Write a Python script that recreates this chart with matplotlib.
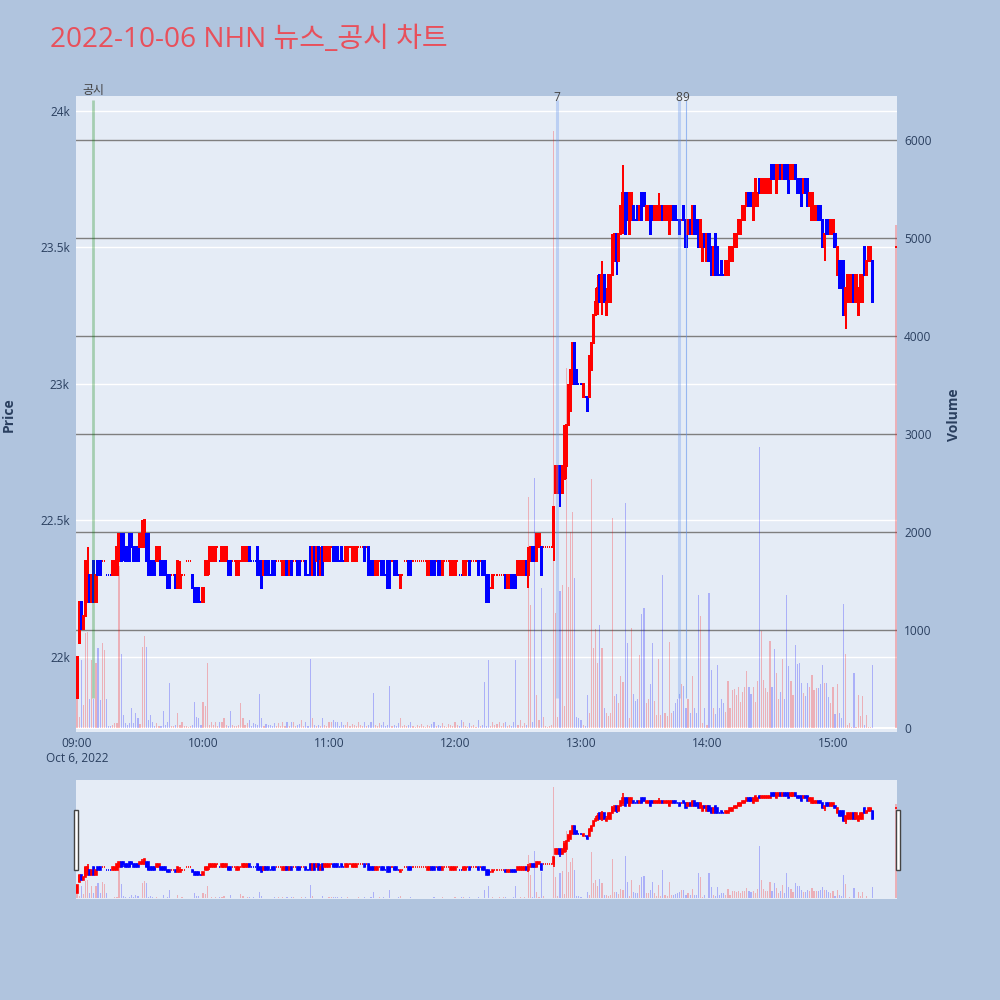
import numpy as np
import pandas as pd
import matplotlib
matplotlib.use('Agg')
import matplotlib.pyplot as plt
import matplotlib.transforms as mtransforms
from matplotlib.patches import Rectangle

plt.rcParams['font.family'] = ['Open Sans', 'Noto Sans CJK KR', 'DejaVu Sans']

# ---------------- data (1-minute candles, 2022-10-06) ----------------
times = list(pd.date_range('2022-10-06 09:00', '2022-10-06 15:19', freq='min')) + [pd.Timestamp('2022-10-06 15:30')]

opens = [
    21850,22050,22200,22100,22150,22200,22300,22200,22350,22200,
    22350,22350,22350,22350,22300,22300,22300,22300,22300,22300,
    22350,22450,22450,22400,22400,22450,22450,22400,22400,22400,
    22400,22400,22400,22450,22450,22350,22350,22350,22350,22350,
    22350,22350,22350,22300,22300,22300,22300,22300,22250,22250,
    22300,22300,22350,22350,22350,22300,22250,22250,22250,22200,
    22200,22300,22300,22350,22350,22350,22350,22400,22350,22350,
    22350,22350,22350,22350,22350,22350,22300,22300,22350,22350,
    22350,22350,22400,22350,22350,22350,22400,22350,22350,22300,
    22350,22350,22300,22350,22350,22350,22350,22350,22300,22300,
    22350,22300,22350,22350,22350,22350,22350,22350,22350,22350,
    22300,22400,22300,22400,22350,22400,22300,22400,22350,22350,
    22350,22400,22400,22400,22400,22350,22400,22350,22350,22350,
    22400,22350,22350,22350,22400,22400,22400,22400,22400,22400,
    22350,22350,22300,22300,22350,22350,22350,22300,22350,22350,
    22350,22350,22350,22300,22250,22300,22350,22350,22350,22350,
    22350,22350,22350,22350,22350,22350,22350,22300,22300,22350,
    22350,22350,22350,22350,22300,22350,22350,22350,22300,22300,
    22300,22350,22300,22300,22300,22300,22350,22350,22350,22350,
    22350,22350,22350,22350,22350,22300,22300,22250,22250,22300,
    22300,22300,22300,22300,22300,22250,22250,22300,22300,22300,
    22300,22300,22300,22300,22350,22300,22350,22400,22400,22350,
    22400,22400,22400,22400,22400,22400,22400,22400,22600,22600,
    22700,22600,22650,22700,22850,22900,23000,23150,23050,23000,
    23000,22950,22950,22950,22950,23050,23150,23250,23300,23400,
    23300,23400,23250,23300,23300,23400,23450,23550,23450,23550,
    23600,23700,23700,23550,23600,23650,23600,23650,23600,23700,
    23700,23600,23600,23650,23650,23600,23600,23600,23600,23650,
    23600,23600,23550,23600,23650,23650,23600,23600,23600,23650,
    23600,23550,23600,23550,23650,23600,23600,23500,23450,23550,
    23450,23550,23500,23400,23550,23500,23400,23450,23400,23400,
    23400,23450,23450,23500,23500,23550,23550,23600,23600,23650,
    23700,23700,23600,23650,23650,23750,23700,23700,23700,23700,
    23700,23800,23800,23700,23750,23800,23750,23800,23800,23800,
    23750,23750,23800,23750,23750,23750,23700,23750,23750,23650,
    23600,23600,23600,23650,23650,23600,23500,23600,23600,23550,
    23550,23550,23400,23450,23450,23450,23250,23300,23300,23300,
    23400,23300,23250,23300,23300,23500,23400,23450,23450,23450,
    23500]
highs = [
    22000,22200,22200,22150,22350,22400,22300,22300,22350,22300,
    22350,22350,22350,22350,22300,22300,22300,22350,22350,22400,
    22450,22450,22450,22400,22400,22450,22450,22400,22400,22400,
    22450,22500,22500,22450,22450,22350,22350,22350,22400,22400,
    22350,22350,22350,22300,22300,22300,22300,22300,22350,22350,
    22300,22300,22350,22350,22350,22300,22250,22250,22250,22200,
    22250,22350,22350,22400,22400,22400,22400,22400,22350,22400,
    22400,22400,22350,22350,22350,22350,22350,22350,22350,22400,
    22400,22400,22400,22350,22350,22350,22400,22350,22350,22350,
    22350,22350,22300,22350,22350,22350,22350,22350,22350,22350,
    22350,22350,22350,22350,22350,22350,22350,22350,22350,22350,
    22300,22400,22400,22400,22400,22400,22400,22400,22400,22400,
    22400,22400,22400,22400,22400,22350,22400,22350,22400,22400,
    22400,22400,22400,22400,22400,22400,22400,22400,22400,22400,
    22350,22350,22350,22350,22350,22350,22350,22300,22350,22350,
    22350,22350,22350,22300,22300,22300,22350,22350,22350,22350,
    22350,22350,22350,22350,22350,22350,22350,22350,22350,22350,
    22350,22350,22350,22350,22350,22350,22350,22350,22350,22350,
    22350,22350,22300,22300,22350,22350,22350,22350,22350,22350,
    22350,22350,22350,22350,22350,22300,22300,22250,22300,22300,
    22300,22300,22300,22300,22300,22300,22300,22300,22300,22300,
    22350,22350,22350,22350,22350,22400,22400,22400,22400,22450,
    22450,22400,22400,22400,22400,22400,22400,22550,22700,22700,
    22700,22700,22850,22850,23000,23050,23150,23150,23050,23000,
    23000,23000,22950,22950,23100,23150,23250,23350,23400,23400,
    23450,23400,23350,23400,23400,23550,23550,23550,23550,23650,
    23800,23700,23700,23700,23700,23650,23600,23650,23650,23700,
    23700,23650,23650,23650,23650,23650,23650,23700,23650,23650,
    23650,23650,23650,23650,23650,23650,23600,23600,23600,23650,
    23600,23600,23600,23650,23650,23600,23600,23600,23550,23550,
    23550,23550,23500,23500,23550,23500,23400,23450,23400,23450,
    23450,23500,23500,23550,23550,23600,23600,23650,23650,23700,
    23700,23700,23700,23750,23700,23750,23750,23750,23750,23750,
    23750,23800,23800,23800,23800,23800,23800,23800,23800,23800,
    23800,23800,23800,23750,23750,23750,23750,23750,23750,23700,
    23700,23650,23650,23650,23650,23600,23550,23600,23600,23600,
    23600,23550,23500,23450,23450,23450,23350,23400,23400,23400,
    23400,23400,23350,23400,23400,23500,23450,23500,23500,23450,
    23500]
lows = [
    21850,22050,22100,22100,22150,22200,22200,22200,22200,22200,
    22300,22300,22350,22350,22300,22300,22300,22300,22300,22300,
    22350,22350,22350,22350,22350,22350,22400,22350,22350,22350,
    22400,22400,22400,22350,22300,22300,22300,22300,22350,22350,
    22300,22300,22300,22250,22250,22300,22300,22250,22250,22250,
    22300,22300,22350,22350,22350,22250,22200,22200,22200,22200,
    22200,22300,22300,22300,22350,22350,22350,22400,22350,22350,
    22350,22350,22300,22300,22350,22350,22300,22300,22350,22350,
    22350,22350,22350,22350,22350,22350,22300,22300,22250,22300,
    22300,22300,22300,22300,22300,22350,22350,22350,22300,22300,
    22300,22300,22300,22350,22350,22300,22300,22350,22350,22300,
    22300,22300,22300,22300,22350,22300,22300,22300,22350,22350,
    22350,22400,22350,22350,22350,22350,22350,22350,22350,22350,
    22400,22350,22350,22350,22400,22400,22400,22350,22400,22300,
    22300,22300,22300,22300,22350,22300,22300,22300,22250,22250,
    22350,22300,22300,22300,22250,22300,22350,22350,22300,22300,
    22350,22350,22350,22350,22350,22350,22350,22300,22300,22300,
    22300,22350,22300,22300,22300,22350,22350,22350,22300,22300,
    22300,22350,22300,22300,22300,22300,22350,22300,22350,22350,
    22350,22300,22350,22300,22300,22200,22200,22250,22250,22300,
    22300,22300,22300,22300,22250,22250,22250,22250,22250,22250,
    22300,22300,22300,22300,22300,22250,22350,22350,22350,22350,
    22400,22300,22400,22400,22400,22400,22400,22350,22600,22600,
    22550,22600,22650,22650,22850,22900,23000,23000,23000,23000,
    23000,22950,22950,22900,22950,23050,23150,23250,23250,23300,
    23250,23300,23250,23300,23300,23400,23450,23400,23450,23550,
    23550,23550,23600,23550,23600,23600,23600,23600,23600,23600,
    23650,23600,23600,23550,23600,23600,23600,23600,23600,23600,
    23600,23600,23550,23600,23600,23600,23600,23550,23600,23600,
    23500,23550,23550,23550,23550,23550,23500,23500,23450,23500,
    23450,23450,23400,23400,23400,23400,23400,23400,23400,23400,
    23400,23450,23450,23500,23500,23550,23550,23600,23600,23650,
    23650,23650,23600,23650,23650,23700,23700,23700,23700,23700,
    23700,23750,23750,23700,23750,23750,23750,23750,23750,23700,
    23750,23750,23750,23700,23700,23650,23700,23700,23650,23650,
    23600,23600,23600,23600,23600,23500,23450,23550,23550,23550,
    23550,23500,23400,23350,23350,23250,23200,23300,23300,23300,
    23300,23300,23250,23300,23300,23400,23400,23450,23450,23300,
    23500]
closes = [
    22000,22200,22100,22150,22350,22350,22200,22300,22200,22300,
    22300,22300,22350,22350,22300,22300,22300,22350,22350,22400,
    22450,22350,22400,22350,22350,22350,22400,22350,22350,22350,
    22450,22450,22500,22350,22300,22300,22300,22300,22400,22400,
    22300,22300,22300,22250,22250,22300,22300,22250,22350,22300,
    22300,22300,22350,22350,22350,22250,22200,22200,22200,22200,
    22250,22350,22350,22400,22400,22400,22400,22400,22350,22400,
    22400,22400,22300,22300,22350,22350,22350,22350,22350,22400,
    22400,22400,22350,22350,22350,22350,22300,22300,22250,22350,
    22300,22300,22300,22300,22300,22350,22350,22350,22350,22350,
    22300,22350,22300,22350,22350,22300,22300,22350,22350,22300,
    22300,22300,22400,22300,22400,22300,22350,22300,22400,22400,
    22400,22400,22350,22350,22350,22350,22350,22350,22400,22400,
    22400,22400,22400,22400,22400,22400,22400,22350,22400,22300,
    22300,22300,22350,22350,22350,22300,22300,22300,22250,22250,
    22350,22300,22300,22300,22300,22300,22350,22350,22300,22300,
    22350,22350,22350,22350,22350,22350,22350,22350,22350,22300,
    22300,22350,22300,22300,22350,22350,22350,22350,22350,22350,
    22350,22350,22300,22300,22350,22350,22350,22300,22350,22350,
    22350,22300,22350,22300,22300,22200,22200,22250,22300,22300,
    22300,22300,22300,22300,22250,22300,22300,22250,22250,22250,
    22350,22350,22350,22350,22300,22350,22400,22350,22350,22450,
    22450,22300,22400,22400,22400,22400,22400,22550,22700,22700,
    22600,22700,22800,22850,22950,23050,23150,23000,23000,23000,
    23000,23000,22950,22900,23100,23150,23250,23300,23350,23300,
    23400,23300,23300,23400,23400,23500,23550,23450,23550,23650,
    23700,23550,23600,23700,23700,23600,23600,23600,23650,23600,
    23650,23650,23650,23550,23600,23650,23650,23650,23650,23600,
    23650,23650,23650,23650,23600,23600,23600,23550,23600,23600,
    23500,23600,23550,23650,23550,23550,23500,23600,23550,23500,
    23550,23450,23400,23500,23400,23400,23400,23400,23400,23450,
    23450,23500,23500,23550,23550,23600,23600,23650,23650,23700,
    23650,23650,23700,23750,23700,23700,23750,23750,23750,23750,
    23750,23750,23750,23800,23800,23750,23800,23750,23750,23700,
    23800,23800,23750,23700,23700,23650,23750,23700,23650,23700,
    23700,23650,23650,23600,23600,23500,23550,23550,23550,23600,
    23600,23500,23500,23350,23350,23250,23350,23400,23400,23400,
    23300,23400,23350,23400,23400,23400,23450,23500,23500,23300,
    23500]
volumes = [
    350,116,694,235,967,980,300,690,300,660,
    813,286,864,800,300,17,17,30,48,50,
    1650,750,135,48,30,48,200,48,150,100,
    40,830,940,830,82,135,60,20,48,20,
    17,170,30,60,456,20,17,30,150,30,
    60,20,17,10,17,30,270,116,100,30,
    270,220,660,30,60,30,60,20,60,60,
    100,30,17,170,30,17,20,30,250,100,
    30,48,80,20,48,40,30,350,100,20,
    40,30,30,20,48,20,48,20,60,20,
    60,20,60,60,20,30,40,80,17,60,
    17,700,100,30,17,30,17,100,30,20,
    60,60,80,60,60,20,60,30,30,60,
    20,40,30,20,60,30,20,60,20,30,
    60,357,30,20,48,30,60,20,30,430,
    20,30,20,48,100,20,30,20,30,60,
    20,10,30,20,40,20,10,30,20,40,
    60,20,30,20,48,20,10,40,30,20,
    60,30,20,80,60,20,10,48,20,30,
    10,80,20,30,470,20,690,20,60,30,
    40,60,20,48,60,20,30,20,60,690,
    30,80,20,50,30,2360,1250,60,2550,340,
    80,1430,116,20,10,20,30,6090,1170,116,
    1400,1460,220,3670,1440,2000,2200,1530,116,100,
    80,30,20,340,150,2540,820,1015,660,1050,
    820,200,150,120,150,2140,330,350,250,530,
    470,2300,870,100,1020,350,280,300,740,1160,
    1220,260,300,450,870,280,130,700,130,1560,
    150,120,880,150,170,250,300,350,450,430,
    200,300,150,530,200,150,1360,1140,50,200,
    30,1375,590,200,140,640,200,300,260,160,
    480,200,390,400,340,420,270,370,420,580,
    420,350,420,270,480,2870,985,490,410,370,
    885,420,810,560,300,370,700,300,1360,630,
    480,340,850,650,660,460,360,330,460,420,
    540,390,410,410,450,640,460,460,320,260,
    420,140,450,150,100,1270,750,35,50,15,
    560,15,340,120,330,30,130,10,15,640,
    5130]

news_times = ['2022-10-06 09:07:50', '2022-10-06 12:48:30', '2022-10-06 13:46:40', '2022-10-06 13:50:00']
news_labels = ['공시', '7', '8', '9']

tick_times = ['09:00', '10:00', '11:00', '12:00', '13:00', '14:00', '15:00']
price_ticks = [22000, 22500, 23000, 23500, 24000]
price_tick_labels = ['22k', '22.5k', '23k', '23.5k', '24k']
vol_ticks = [0, 1000, 2000, 3000, 4000, 5000, 6000]

# ---------------- derived ----------------
t0 = pd.Timestamp('2022-10-06 09:00')
x = np.array([(t - t0).total_seconds() / 60.0 for t in times])
o = np.array(opens, float); h = np.array(highs, float)
l = np.array(lows, float); c = np.array(closes, float)
v = np.array(volumes, float)

inc = []
state = True
prev = None
for oi, ci in zip(o, c):
    if ci > oi:
        state = True
    elif ci < oi:
        state = False
    else:
        if prev is not None and ci != prev:
            state = ci > prev
    inc.append(state)
    prev = ci
inc = np.array(inc)
RED, BLUE = '#ff0000', '#0000ff'
cols = np.where(inc, RED, BLUE)
vcols = [(1, 0, 0, 0.25) if k else (0, 0, 1, 0.25) for k in inc]

BG_FIG = '#b0c4de'
BG_PLOT = '#e5ecf6'
TXT = '#2a3f5f'
PX = 1 / 1000.0

fig = plt.figure(figsize=(10, 10), dpi=100, facecolor=BG_FIG)

XMIN, XMAX = -0.5, 390.5
PMIN, PMAX = 21724, 24054
VMIN, VMAX = -41, 6449

def draw_traces(axv, axp, lw):
    axv.bar(x, v, width=0.55, color=vcols, linewidth=0, zorder=2)
    axp.vlines(x, l, h, colors=cols, linewidth=lw, zorder=3)
    axp.bar(x, np.abs(c - o), bottom=np.minimum(o, c), width=0.55,
            color=cols, edgecolor=cols, linewidth=lw, zorder=4)

# ---------------- main panel ----------------
rect = [76 * PX, 1 - 732 * PX, 821 * PX, 636 * PX]
ax_v = fig.add_axes(rect)
ax_v.set_facecolor(BG_PLOT)
ax_p = fig.add_axes(rect, sharex=ax_v)
ax_p.patch.set_alpha(0)
ax_p.set_zorder(ax_v.get_zorder() + 1)

ax_v.set_xlim(XMIN, XMAX)
ax_v.set_ylim(VMIN, VMAX)
ax_p.set_ylim(PMIN, PMAX)

# grids (all below traces)
trans_p = mtransforms.blended_transform_factory(ax_v.transAxes, ax_p.transData)
for p in price_ticks:
    ax_v.plot([0, 1], [p, p], transform=trans_p, color='white', lw=1.0, zorder=0.5)
for vv in vol_ticks[1:]:
    ax_v.axhline(vv, color='#7f7f7f', lw=1.0, zorder=0.6)
ax_v.axhline(0, color='white', lw=1.4, zorder=0.7)

draw_traces(ax_v, ax_p, 1.44)

# news lines
news_x = [(pd.Timestamp(t) - t0).total_seconds() / 60.0 for t in news_times]
line_styles = [((0.0, 0.5, 0.0, 0.28), 2.0), ((0.39, 0.58, 0.93, 0.32), 2.2),
               ((0.39, 0.58, 0.93, 0.32), 2.2), ((0.39, 0.58, 0.93, 0.6), 0.8)]
for nx, lab, (lc, lwid) in zip(news_x, news_labels, line_styles):
    ax_p.plot([nx, nx], [21850, 24040], color=lc, lw=lwid, zorder=5, solid_capstyle='butt')
    yb = 24060 if lab == '공시' else 24036
    ax_p.text(nx, yb, lab, ha='center', va='baseline', fontsize=8.6, color='#444444',
              clip_on=False, zorder=6)

# ticks
for a in (ax_v, ax_p):
    for s in a.spines.values():
        s.set_visible(False)
ax_p.set_yticks(price_ticks)
ax_p.set_yticklabels(price_tick_labels)
ax_p.tick_params(axis='y', left=True, length=0, pad=4.5, labelsize=8.6, labelcolor=TXT)
ax_p.tick_params(axis='x', bottom=False, labelbottom=False)
ax_v.yaxis.tick_right()
ax_v.set_yticks(vol_ticks)
ax_v.set_yticklabels([str(t) for t in vol_ticks])
ax_v.tick_params(axis='y', length=0, pad=5, labelsize=8.6, labelcolor=TXT)
tick_x = [(pd.Timestamp('2022-10-06 ' + t) - t0).total_seconds() / 60.0 for t in tick_times]
ax_v.set_xticks(tick_x)
ax_v.set_xticklabels(tick_times)
ax_v.tick_params(axis='x', length=0, pad=3.5, labelsize=8.6, labelcolor=TXT)
ax_v.grid(False); ax_p.grid(False)

fig.text(77 * PX, 1 - 758 * PX, 'Oct 6, 2022', ha='center', va='center', fontsize=8.6, color=TXT)
fig.text(9 * PX, 1 - 415 * PX, 'Price', rotation=90, ha='center', va='center',
         fontsize=10, fontweight='bold', color=TXT)
fig.text(954 * PX, 1 - 415 * PX, 'Volume', rotation=90, ha='center', va='center',
         fontsize=10, fontweight='bold', color=TXT)
fig.text(50 * PX, 1 - 40 * PX, '2022-10-06 NHN 뉴스_공시 차트', ha='left', va='center',
         fontsize=20.2, color='#e8505b')

# ---------------- range slider ----------------
srect = [76 * PX, 1 - 899 * PX, 821 * PX, 119 * PX]
s_v = fig.add_axes(srect)
s_v.set_facecolor(BG_PLOT)
s_p = fig.add_axes(srect, sharex=s_v)
s_p.patch.set_alpha(0)
s_p.set_zorder(s_v.get_zorder() + 1)
s_v.set_xlim(XMIN, XMAX)
s_v.set_ylim(VMIN, VMAX)
s_p.set_ylim(PMIN, PMAX)
draw_traces(s_v, s_p, 1.2)
for a in (s_v, s_p):
    a.set_xticks([]); a.set_yticks([])
    for s in a.spines.values():
        s.set_visible(False)

for hx in (73.5, 895.5):
    fig.patches.append(Rectangle((hx * PX, 1 - 870 * PX), 4.5 * PX, 60 * PX,
                                 transform=fig.transFigure, facecolor='white',
                                 edgecolor='#444444', lw=1.0, zorder=10))

fig.savefig('out.png', dpi=100, facecolor=BG_FIG)
